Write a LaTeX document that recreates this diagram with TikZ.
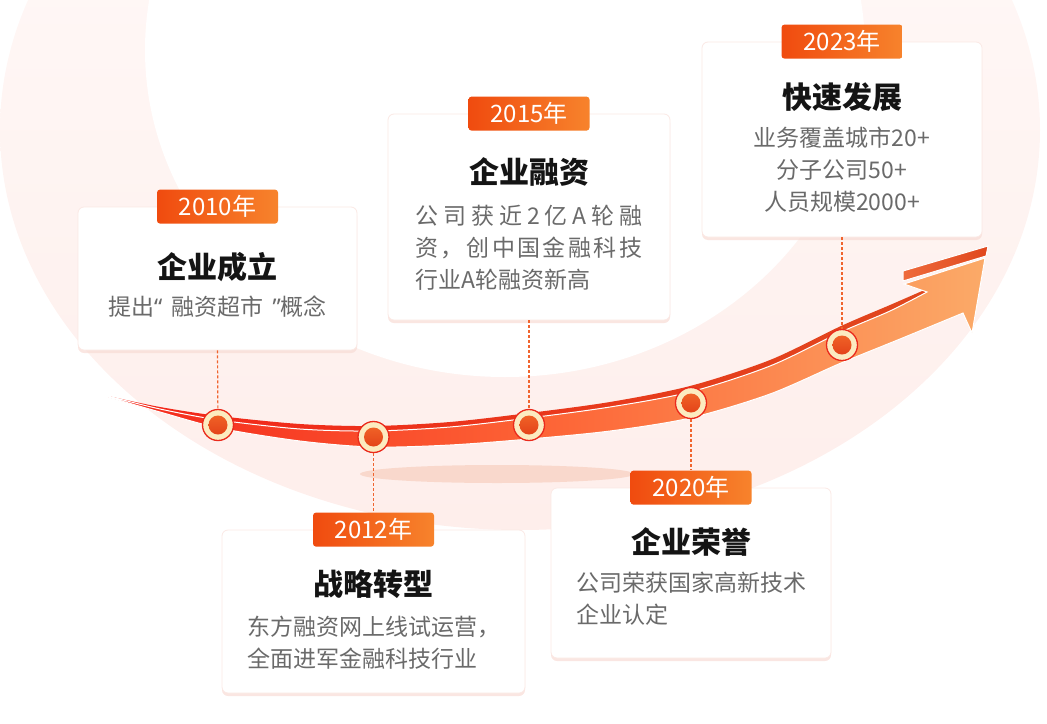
\documentclass[tikz,border=0pt]{standalone}
\usepackage{fontspec}
\setmainfont{Noto Sans CJK SC}
\newfontfamily\quotefont{Noto Sans}
\usetikzlibrary{positioning, shadows}
\definecolor{tagleft}{HTML}{F04B0F}
\definecolor{tagright}{HTML}{F7832C}
\definecolor{titleblack}{HTML}{141414}
\definecolor{bodygray}{HTML}{6A6A6A}
\definecolor{cardedge}{HTML}{FBE9E5}
\definecolor{cardshadow}{HTML}{F8DCD5}
\definecolor{bgtop}{HTML}{FFFBFA}
\definecolor{bgbottom}{HTML}{FEEEEB}
\definecolor{groundpink}{HTML}{F9D8CC}
\definecolor{linkorange}{HTML}{F0642E}
\definecolor{arrowred}{HTML}{F4261A}
\definecolor{arrowmid}{HTML}{FD6436}
\definecolor{arrowlight}{HTML}{FBAA68}
\definecolor{stripdark}{HTML}{E0471D}
\definecolor{barleft}{HTML}{EE6B3C}
\definecolor{dotcream}{HTML}{FCEBC0}
\definecolor{dotring}{HTML}{EA2A1C}
\definecolor{dotcoretop}{HTML}{F36B2A}
\definecolor{dotcorebottom}{HTML}{E03A16}

\begin{document}
\begin{tikzpicture}[x=1pt, y=-1pt,
        card/.style={rectangle, rounded corners=6pt, fill=white, draw=cardedge, line width=0.8pt, drop shadow={shadow xshift=0pt, shadow yshift=-3pt, fill=cardshadow, opacity=0.7}},
        yeartag/.style={rectangle, rounded corners=3pt, left color=tagleft, right color=tagright, text=white, minimum width=121pt, minimum height=34pt, inner sep=0pt, font=\fontsize{24pt}{26pt}\selectfont},
        title/.style={inner sep=0pt, text=titleblack, font=\fontsize{30pt}{34pt}\selectfont\bfseries},
        body/.style={inner sep=0pt, text=bodygray, align=center, font=\fontsize{23pt}{32pt}\selectfont},
        link/.style={linkorange, line width=1.2pt, dash pattern=on 3pt off 2pt},
        dot/.style={circle, fill=dotcream, draw=dotring, line width=1.3pt, minimum size=31pt, inner sep=0pt,
            path picture={\shade[top color=dotcoretop, bottom color=dotcorebottom] (path picture bounding box.center) circle (9.5pt);}}
    ]
        \useasboundingbox (0,0) rectangle (1047,723);
        % background crescent
        \begin{scope}
            \clip (0,0) rectangle (1047,723);
            \shade[top color=bgtop, bottom color=bgbottom] (520,130) ellipse [x radius=520, y radius=400];
            \fill[white] (505,50) ellipse [x radius=360, y radius=327];
            \fill[groundpink] (497,474) ellipse [x radius=137, y radius=9];
        \end{scope}

        % cards
        \node[card, minimum width=279pt, minimum height=143pt] (c2010) at (217.5,278.5) {};
        \node[card, minimum width=282pt, minimum height=206pt] (c2015) at (529,217) {};
        \node[card, minimum width=280pt, minimum height=195pt] (c2023) at (842,139.5) {};
        \node[card, minimum width=303pt, minimum height=163pt] (c2012) at (373.5,611.5) {};
        \node[card, minimum width=280pt, minimum height=170pt] (c2020) at (691,573) {};

        \node[yeartag] (y2010) at (c2010.north) {2010年};
        \node[yeartag] (y2015) at (c2015.north) {2015年};
        \node[yeartag] (y2023) at (c2023.north) {2023年};
        \node[yeartag] (y2012) at (c2012.north) {2012年};
        \node[yeartag] (y2020) at (c2020.north) {2020年};

        \node[title, below=60pt of c2010.north, anchor=center] (t2010) {企业成立};
        \node[title, below=58pt of c2015.north, anchor=center] (t2015) {企业融资};
        \node[title, below=55pt of c2023.north, anchor=center] (t2023) {快速发展};
        \node[title, below=55pt of c2012.north, anchor=center] (t2012) {战略转型};
        \node[title, below=54pt of c2020.north, anchor=center] (t2020) {企业荣誉};

        \node[body, below=89pt of c2010.north] (b2010) {提出{\quotefont“}\hspace{9pt}融资超市\hspace{9pt}{\quotefont”}概念};
        \node[body, align=left, below=91pt of c2015.north] (b2015) {%
            \makebox[227pt][s]{公\hfill 司\hfill 获\hfill 近\hfill 2\hfill 亿\hfill A\hfill 轮\hfill 融}\\
            \makebox[227pt][s]{资\hfill ，\hfill 创\hfill 中\hfill 国\hfill 金\hfill 融\hfill 科\hfill 技}\\
            行业A轮融资新高};
        \node[body, below=85pt of c2023.north] (b2023) {业务覆盖城市20+\\分子公司50+\\人员规模2000+};
        \node[body, align=left, below=86pt of c2012.north] (b2012) {东方融资网上线试运营，\\全面进军金融科技行业};
        \node[body, align=left, below=84pt of c2020.north] (b2020) {公司荣获国家高新技术\\企业认定};

        % rising arrow
        \shade[left color=arrowred, right color=stripdark]
            plot[smooth] coordinates {(108,396) (160,407) (219,416) (300,424) (373,426) (450,422) (529,413) (610,402) (690,386) (770,360) (841,326) (890,305) (929,288)}
            -- plot[smooth] coordinates {(927,292) (890,311) (841,332) (770,366) (690,392) (610,407) (529,418) (450,427) (373,431) (300,429) (219,420) (160,409) (108,396)} -- cycle;
        \shade[left color=arrowred, right color=arrowlight, middle color=arrowmid, draw=white, line width=1pt]
            plot[smooth] coordinates {(108,396) (160,409) (219,420) (300,429) (373,431) (450,427) (529,418) (610,407) (690,392) (770,366) (841,332) (890,311) (927,292)}
            -- (904,284) -- (985,258) -- (972,333)
            -- plot[smooth] coordinates {(963,313) (900,339) (841,363) (770,394) (690,418) (610,431) (529,439) (450,445) (373,447) (300,441) (219,428) (160,412) (108,397)} -- cycle;
        \shade[left color=barleft, right color=stripdark, draw=white, line width=1pt]
            (903,271) -- (988,246) -- (986,256) -- (903,281) -- cycle;

        \node[dot] (d2010) at (218,425) {};
        \node[dot] (d2012) at (373.5,437) {};
        \node[dot] (d2015) at (529,425) {};
        \node[dot] (d2020) at (691,403) {};
        \node[dot] (d2023) at (842,345) {};

        \draw[link] (c2010.south) -- (d2010);
        \draw[link] (c2015.south) -- (d2015);
        \draw[link] (c2023.south) -- (d2023);
        \draw[link] (d2012) -- (y2012.north);
        \draw[link] (d2020) -- (y2020.north);
    \end{tikzpicture}
\end{document}
